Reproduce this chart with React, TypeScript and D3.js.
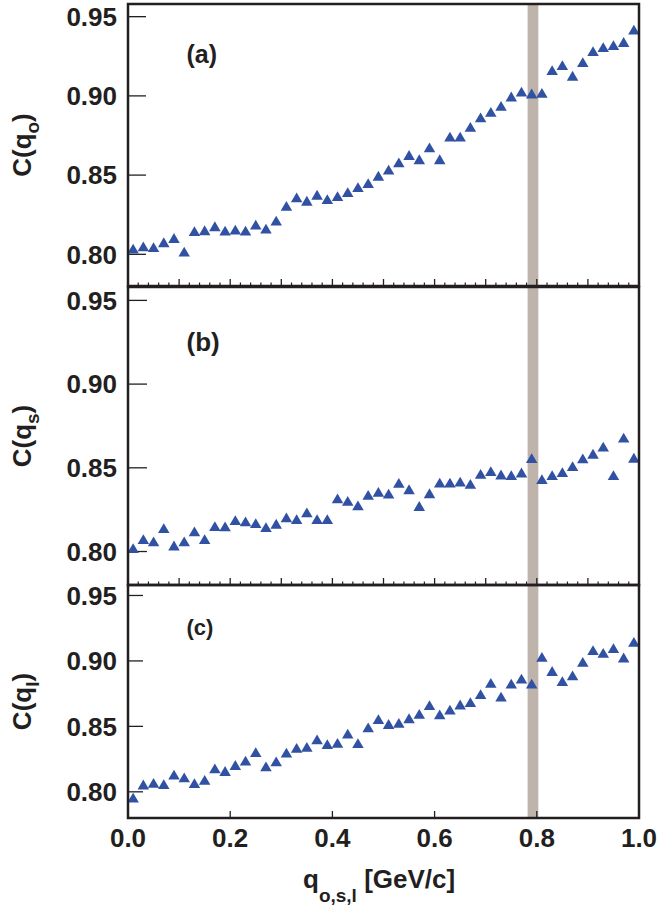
import React from "react";
import * as d3 from "d3";

// Bin centres of q (GeV/c)
const qBins = [
  0.01, 0.03, 0.05, 0.07, 0.09, 0.11, 0.13, 0.15, 0.17, 0.19,
  0.21, 0.23, 0.25, 0.27, 0.29, 0.31, 0.33, 0.35, 0.37, 0.39,
  0.41, 0.43, 0.45, 0.47, 0.49, 0.51, 0.53, 0.55, 0.57, 0.59,
  0.61, 0.63, 0.65, 0.67, 0.69, 0.71, 0.73, 0.75, 0.77, 0.79,
  0.81, 0.83, 0.85, 0.87, 0.89, 0.91, 0.93, 0.95, 0.97, 0.99,
];

// Correlation function projections
const cOut = [
  0.8036, 0.805, 0.8046, 0.8076, 0.8103, 0.8017, 0.8146, 0.8152, 0.8177, 0.815,
  0.8156, 0.815, 0.8188, 0.8162, 0.8213, 0.8306, 0.8359, 0.8338, 0.8376, 0.8348,
  0.8367, 0.8392, 0.8424, 0.8449, 0.8496, 0.8534, 0.858, 0.8627, 0.86, 0.8675,
  0.86, 0.8743, 0.8743, 0.8804, 0.8865, 0.8899, 0.8937, 0.8996, 0.9027, 0.9015,
  0.9019, 0.9162, 0.9194, 0.9127, 0.9213, 0.9283, 0.9308, 0.9321, 0.934, 0.9418,
];
const cSide = [
  0.802, 0.8074, 0.806, 0.814, 0.8036, 0.806, 0.812, 0.8074, 0.8152, 0.815,
  0.8188, 0.818, 0.817, 0.8146, 0.8166, 0.8204, 0.8194, 0.8234, 0.8194, 0.8194,
  0.8318, 0.8302, 0.8276, 0.8338, 0.8356, 0.8346, 0.841, 0.8372, 0.8272, 0.8348,
  0.8412, 0.8412, 0.8418, 0.8404, 0.8464, 0.848, 0.846, 0.8456, 0.8472, 0.8558,
  0.8432, 0.8456, 0.8474, 0.851, 0.8556, 0.8584, 0.8626, 0.8456, 0.868, 0.856,
];
const cLong = [
  0.7956, 0.8056, 0.8069, 0.8059, 0.8131, 0.811, 0.8067, 0.8092, 0.8179, 0.8159,
  0.8205, 0.8238, 0.8303, 0.8195, 0.8233, 0.83, 0.8336, 0.8344, 0.84, 0.8364,
  0.8374, 0.8444, 0.8372, 0.8492, 0.8556, 0.8518, 0.8526, 0.8562, 0.8595, 0.8662,
  0.8592, 0.8628, 0.8667, 0.8685, 0.8746, 0.8833, 0.8728, 0.8826, 0.8864, 0.8826,
  0.9031, 0.8923, 0.8846, 0.889, 0.8992, 0.9082, 0.9062, 0.9097, 0.9026, 0.9146,
];

const yTicks = [0.8, 0.85, 0.9, 0.95];
const xTickLabels = [0.0, 0.2, 0.4, 0.6, 0.8, 1.0];
const bandRange = [0.782, 0.803];
const yDomain = [0.78, 0.958];

const W = 658;
const H = 909;
const LEFT = 128;
const RIGHT = 639;
const FONT = "'Liberation Sans', Arial, Helvetica, sans-serif";
const INK = "#231f20";
const MARK = "#3152a3";

const panels = [
  { key: "a", label: "(a)", sub: "o", values: cOut, top: 4, bottom: 286, yTickLen: 18, minor: true, labelSize: 25, labelY: 58.5 },
  { key: "b", label: "(b)", sub: "s", values: cSide, top: 287, bottom: 585, yTickLen: 19, minor: true, labelSize: 26, labelY: 63.5 },
  { key: "c", label: "(c)", sub: "l", values: cLong, top: 585, bottom: 818, yTickLen: 15, minor: false, labelSize: 22, labelY: 50 },
];

const x = d3.scaleLinear().domain([0, 1]).range([LEFT, RIGHT]);

function triangle(cx: number, cy: number, w = 11.5, h = 9.8) {
  const p = d3.path();
  p.moveTo(cx, cy - h / 2);
  p.lineTo(cx + w / 2, cy + h / 2);
  p.lineTo(cx - w / 2, cy + h / 2);
  p.closePath();
  return p.toString();
}

function Panel({ cfg }: { cfg: (typeof panels)[number] }) {
  const y = d3.scaleLinear().domain(yDomain).range([cfg.bottom, cfg.top]);
  const majors = cfg.minor ? d3.range(1, 10).map((i) => i / 10) : [0.2, 0.4, 0.6, 0.8];
  const minors = cfg.minor ? d3.range(1, 50).map((i) => i / 50).filter((v) => Math.abs(v * 10 - Math.round(v * 10)) > 1e-6) : [];
  const midY = (cfg.top + cfg.bottom) / 2;
  return (
    <g>
      {/* y ticks and labels */}
      {yTicks.map((t) => (
        <g key={t}>
          <line x1={LEFT} x2={LEFT + cfg.yTickLen} y1={y(t)} y2={y(t)} stroke={INK} strokeWidth={1.3} />
          <text x={117} y={y(t)} dy="0.36em" textAnchor="end" fontFamily={FONT} fontWeight="bold" fontSize={26} fill={INK}>
            {d3.format(".2f")(t)}
          </text>
        </g>
      ))}
      {/* x ticks on the bottom edge */}
      {majors.map((t) => (
        <line key={"M" + t} x1={x(t)} x2={x(t)} y1={cfg.bottom} y2={cfg.bottom - 7} stroke={INK} strokeWidth={1.3} />
      ))}
      {minors.map((t) => (
        <line key={"m" + t} x1={x(t)} x2={x(t)} y1={cfg.bottom} y2={cfg.bottom - 3.5} stroke={INK} strokeWidth={1.2} />
      ))}
      {/* data points */}
      {cfg.values.map((v, i) => (
        <path key={i} d={triangle(x(qBins[i]), y(v))} fill={MARK} />
      ))}
      {/* frame */}
      <rect x={LEFT} y={cfg.top} width={RIGHT - LEFT} height={cfg.bottom - cfg.top} fill="none" stroke={INK} strokeWidth={2.5} />
      {/* panel tag */}
      <text x={186.5} y={cfg.top + cfg.labelY} fontFamily={FONT} fontWeight="bold" fontSize={cfg.labelSize} fill={INK}>
        {cfg.label}
      </text>
      {/* y title */}
      <text transform={`translate(31,${midY}) rotate(-90)`} textAnchor="middle" fontFamily={FONT} fontWeight="bold" fontSize={26} fill={INK}>
        C(q
        <tspan fontSize={19} dy={8}>{cfg.sub}</tspan>
        <tspan dy={-8}>)</tspan>
      </text>
    </g>
  );
}

export default function App() {
  const bandTop = panels[0].top - 1;
  const bandBottom = panels[2].bottom;
  return (
    <svg width={W} height={H} style={{ position: "absolute", left: 0, top: 0, background: "#fff" }}>
      <rect x={0} y={0} width={W} height={H} fill="#fff" />
      <rect
        x={x(bandRange[0])}
        y={bandTop}
        width={x(bandRange[1]) - x(bandRange[0])}
        height={bandBottom - bandTop}
        fill="#beb4ab"
      />
      {panels.map((p) => (
        <Panel key={p.key} cfg={p} />
      ))}
      {/* x tick labels */}
      {xTickLabels.map((t) => (
        <text key={t} x={x(t)} y={847} textAnchor="middle" fontFamily={FONT} fontWeight="bold" fontSize={26} fill={INK}>
          {d3.format(".1f")(t)}
        </text>
      ))}
      {/* x title */}
      <text x={303} y={888} fontFamily={FONT} fontWeight="bold" fontSize={26} fill={INK}>
        q
        <tspan fontSize={19} dy={14}>o,s,l</tspan>
        <tspan dy={-14}> [GeV/c]</tspan>
      </text>
    </svg>
  );
}
